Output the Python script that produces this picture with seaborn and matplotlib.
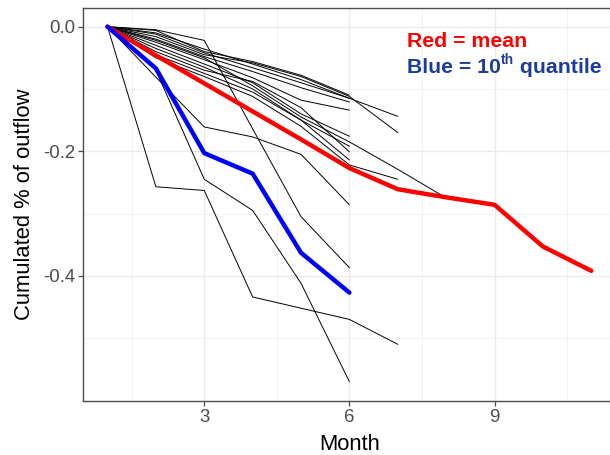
import matplotlib
matplotlib.use("Agg")
import matplotlib.pyplot as plt
from matplotlib.ticker import MultipleLocator, FixedLocator
import pandas as pd
import seaborn as sns

# monthly cumulated outflow per series (month 1 = 0)
months = list(range(1, 12))
black_series = {
    "s01": [0, -0.005, -0.022, -0.164, -0.305, -0.387],
    "s02": [0, -0.081, -0.161, -0.177, -0.205, -0.286],
    "s03": [0, -0.070, -0.245, -0.295, -0.412, -0.570],
    "s04": [0, -0.257, -0.263, -0.434, -0.452, -0.470, -0.510],
    "s05": [0, -0.006, -0.040, -0.056, -0.078, -0.110],
    "s06": [0, -0.012, -0.042, -0.066, -0.090, -0.115],
    "s07": [0, -0.020, -0.048, -0.072, -0.098, -0.121],
    "s08": [0, -0.025, -0.053, -0.082, -0.118, -0.134],
    "s09": [0, -0.010, -0.036, -0.060, -0.085, -0.115, -0.144],
    "s10": [0, -0.016, -0.045, -0.058, -0.080, -0.112, -0.170],
    "s11": [0, -0.030, -0.060, -0.090, -0.140, -0.176],
    "s12": [0, -0.022, -0.050, -0.095, -0.145, -0.185, -0.229, -0.275],
    "s13": [0, -0.035, -0.065, -0.100, -0.150, -0.192],
    "s14": [0, -0.040, -0.070, -0.088, -0.130, -0.201],
    "s15": [0, -0.045, -0.075, -0.105, -0.150, -0.214],
    "s16": [0, -0.050, -0.080, -0.112, -0.160, -0.222, -0.245],
}
mean_values = [0, -0.046, -0.091, -0.136, -0.181, -0.227, -0.261, -0.274, -0.286, -0.353, -0.392]
q10_values = [0, -0.067, -0.203, -0.236, -0.363, -0.427]

rows = []
for name, vals in black_series.items():
    for m, v in zip(months, vals):
        rows.append({"series": name, "Month": m, "value": v})
df_black = pd.DataFrame(rows)
df_mean = pd.DataFrame({"Month": months[:len(mean_values)], "value": mean_values})
df_q10 = pd.DataFrame({"Month": months[:len(q10_values)], "value": q10_values})

sns.set_theme(style="white")
plt.rcParams["font.family"] = ["Liberation Sans", "DejaVu Sans"]
plt.rcParams["axes.unicode_minus"] = False

W, H = 610, 455
fig = plt.figure(figsize=(W / 100, H / 100), dpi=100)
ax = fig.add_axes([83.3 / W, (H - 401) / H, (615.5 - 83.3) / W, (401 - 8.3) / H])

sns.lineplot(data=df_black, x="Month", y="value", units="series", estimator=None,
             color="black", linewidth=0.7, ax=ax)
sns.lineplot(data=df_mean, x="Month", y="value", color="#ff0000", linewidth=3.2, ax=ax)
sns.lineplot(data=df_q10, x="Month", y="value", color="#0000ff", linewidth=3.2, ax=ax)

ax.set_xlim(0.5, 11.5)
ax.set_ylim(-0.601, 0.0295)
ax.xaxis.set_major_locator(FixedLocator([3, 6, 9]))
ax.xaxis.set_minor_locator(FixedLocator([1.5, 4.5, 7.5, 10.5]))
ax.yaxis.set_major_locator(FixedLocator([0, -0.2, -0.4]))
ax.yaxis.set_minor_locator(FixedLocator([-0.1, -0.3, -0.5]))
ax.set_yticklabels(["0.0", "-0.2", "-0.4"])
ax.grid(True, which="major", color="#ebebeb", linewidth=1.0)
ax.grid(True, which="minor", color="#f2f2f2", linewidth=0.7)
ax.set_axisbelow(True)
for sp in ax.spines.values():
    sp.set_color("#4d4d4d")
    sp.set_linewidth(1.0)
ax.tick_params(which="major", length=3.5, width=0.9, color="#4d4d4d",
               labelsize=13.4, labelcolor="#4d4d4d", pad=2, bottom=True, left=True)
ax.tick_params(which="minor", length=0)
ax.set_xlabel("Month", fontsize=15.8, color="black", labelpad=6)
ax.set_ylabel("Cumulated % of outflow", fontsize=15.8, color="black", labelpad=6)

# legend-like annotation
fig.text(407 / W, (H - 47.3) / H, "Red = mean", color="#ff0000", fontsize=15.3,
         fontweight="bold", va="baseline", ha="left")
blue = "#1c3c9c"
renderer = fig.canvas.get_renderer()
t1 = fig.text(407 / W, (H - 72.7) / H, "Blue = 10", color=blue, fontsize=15.3,
              fontweight="bold", va="baseline", ha="left")
bb = t1.get_window_extent(renderer)
t2 = fig.text(bb.x1 / W, (H - 64.5) / H, "th", color=blue, fontsize=10,
              fontweight="bold", va="baseline", ha="left")
bb2 = t2.get_window_extent(renderer)
fig.text(bb2.x1 / W, (H - 72.7) / H, " quantile", color=blue, fontsize=15.3,
         fontweight="bold", va="baseline", ha="left")

fig.savefig("out.png", dpi=100)
